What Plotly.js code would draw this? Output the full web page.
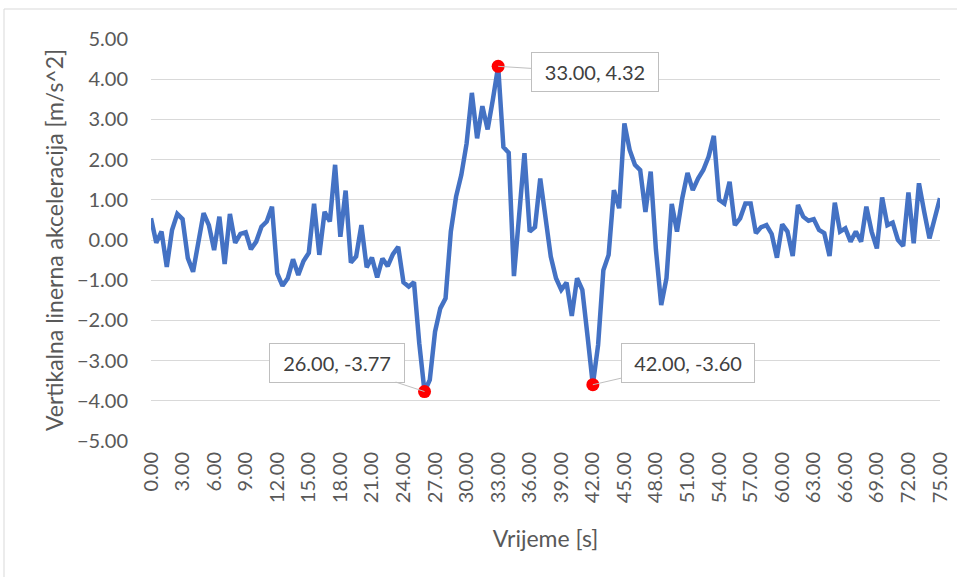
<!DOCTYPE html>
<html>
<head>
<meta charset="utf-8">
<script src="https://cdn.plot.ly/plotly-3.0.1.min.js"></script>
<style>html,body{margin:0;padding:0;background:#fff;}#chart{width:957px;height:577px;}</style>
</head>
<body>
<div id="chart"></div>
<script>
// time step 0.5 s, 0 .. 75 s
const timeStart = 0;
const timeStep = 0.5;
const accel = [
  0.54,-0.07,0.21,-0.67,0.25,0.65,0.52,-0.45,-0.79,-0.05,
  0.67,0.37,-0.25,0.58,-0.60,0.65,-0.07,0.15,0.19,-0.23,
  -0.04,0.33,0.46,0.83,-0.83,-1.14,-0.95,-0.48,-0.87,-0.52,
  -0.32,0.90,-0.37,0.70,0.46,1.87,0.08,1.23,-0.56,-0.41,
  0.37,-0.68,-0.44,-0.93,-0.46,-0.65,-0.35,-0.17,-1.05,-1.16,
  -1.05,-2.57,-3.77,-3.48,-2.28,-1.70,-1.45,0.21,1.08,1.62,
  2.40,3.66,2.53,3.33,2.75,3.50,4.32,2.31,2.17,-0.90,
  0.63,2.16,0.21,0.32,1.53,0.58,-0.41,-0.95,-1.24,-1.06,
  -1.89,-0.95,-1.24,-2.40,-3.60,-2.61,-0.75,-0.37,1.24,0.79,
  2.90,2.24,1.87,1.74,0.70,1.70,-0.25,-1.62,-0.95,0.90,
  0.21,1.04,1.67,1.24,1.53,1.74,2.07,2.59,1.00,0.91,
  1.45,0.37,0.54,0.91,0.91,0.17,0.32,0.37,0.15,-0.44,
  0.39,0.21,-0.40,0.87,0.58,0.48,0.52,0.25,0.17,-0.40,
  0.93,0.21,0.29,-0.04,0.21,-0.04,0.83,0.21,-0.21,1.06,
  0.37,0.43,0.00,-0.15,1.18,-0.08,1.41,0.70,0.04,0.54,
  1.04
];
const time = accel.map((_, i) => timeStart + i * timeStep);

const markedTimes = [26, 33, 42];
const markedValues = markedTimes.map(t => accel[Math.round((t - timeStart) / timeStep)]);
const markedLabels = markedTimes.map((t, i) => t.toFixed(2) + ', ' + markedValues[i].toFixed(2));

const xTitle = 'Vrijeme [s]';
const yTitle = 'Vertikalna linerna akceleracija [m/s^2]';

const FONT = 'Lato, "Open Sans", sans-serif';
const GREY = '#595959';

// annotation box offsets (pixels) relative to marked points
const annOffsets = [[-88, -29], [97, 6], [95, -22]];
const annSizes = [[132, 36], [124, 36], [130, 36]];

const annotations = markedTimes.map((t, i) => ({
  x: t, y: markedValues[i], xref: 'x', yref: 'y',
  text: markedLabels[i],
  showarrow: true, arrowhead: 0, arrowwidth: 1, arrowcolor: '#BFBFBF',
  ax: annOffsets[i][0], ay: annOffsets[i][1], standoff: 0,
  bgcolor: '#FFFFFF', bordercolor: '#BFBFBF', borderwidth: 1,
  width: annSizes[i][0], height: annSizes[i][1],
  font: {family: FONT, size: 20, color: '#404040'}
}));

const L = 151, R = 17, T = 39, B = 136;
const pw = 957 - L - R, ph = 577 - T - B;

const layout = {
  width: 957, height: 577,
  margin: {l: L, r: R, t: T, b: B, pad: 0},
  paper_bgcolor: '#FFFFFF', plot_bgcolor: '#FFFFFF',
  showlegend: false,
  font: {family: FONT, color: GREY},
  xaxis: {
    range: [0, 75], dtick: 3, tick0: 0, tickformat: '.2f', tickangle: -90,
    showgrid: false, zeroline: false, showline: false,
    ticks: 'outside', ticklen: 2, tickcolor: 'rgba(0,0,0,0)',
    tickfont: {family: FONT, size: 20, color: GREY},
    title: {text: xTitle, font: {family: FONT, size: 23, color: GREY}, standoff: 28},
    automargin: false, fixedrange: true
  },
  yaxis: {
    range: [-5, 5], dtick: 1, tickformat: '.2f',
    showgrid: true, gridcolor: '#D9D9D9', gridwidth: 1,
    zeroline: false, showline: false,
    ticks: 'outside', ticklen: 18, tickcolor: 'rgba(0,0,0,0)',
    tickfont: {family: FONT, size: 20, color: GREY},
    title: {text: yTitle, font: {family: FONT, size: 23, color: GREY}, standoff: 6},
    automargin: false, fixedrange: true
  },
  shapes: [{
    type: 'rect', xref: 'paper', yref: 'paper',
    x0: (4 - L) / pw, x1: (962 - L) / pw,
    y0: (441 - 582) / ph, y1: (441 - 9) / ph,
    line: {color: '#D9D9D9', width: 1}, fillcolor: 'rgba(0,0,0,0)', layer: 'below'
  }],
  annotations: annotations
};

const traces = [
  {
    x: time, y: accel, type: 'scatter', mode: 'lines',
    line: {color: '#4472C4', width: 4.5, shape: 'linear'},
    hoverinfo: 'x+y', cliponaxis: false
  },
  {
    x: markedTimes, y: markedValues, type: 'scatter', mode: 'markers',
    marker: {color: '#FF0000', size: 13, line: {width: 0}},
    cliponaxis: false
  }
];

Plotly.newPlot('chart', traces, layout, {staticPlot: true, displayModeBar: false});
</script>
</body>
</html>
